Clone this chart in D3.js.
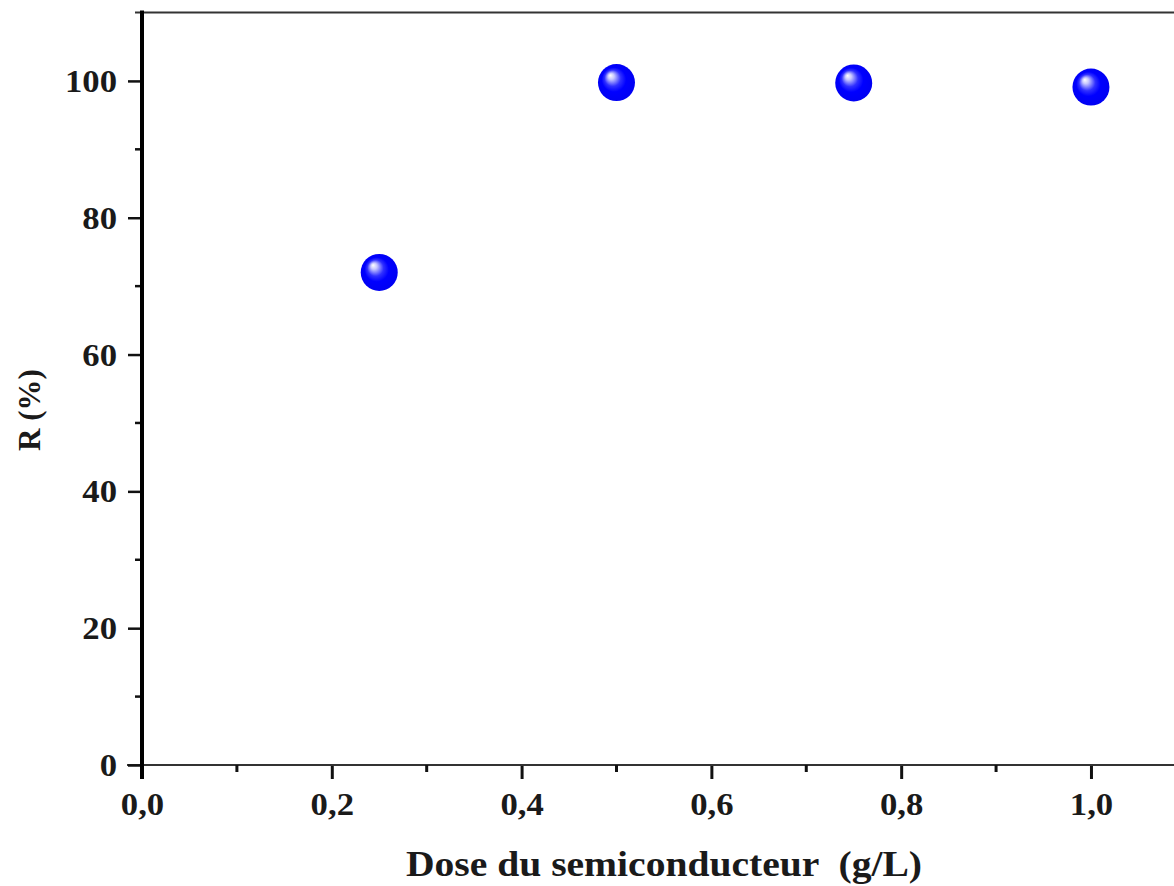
<!DOCTYPE html>
<html>
<head>
<meta charset="utf-8">
<script src="https://cdn.jsdelivr.net/npm/d3@7"></script>
<style>
  html, body { margin: 0; padding: 0; background: #fff; }
  svg { display: block; }
  text { font-family: "Liberation Serif", "Times New Roman", serif; font-weight: bold; fill: #1a1a1a; }
</style>
</head>
<body>
<svg id="chart" width="1174" height="886"></svg>
<script>
// Photocatalytic removal yield vs. semiconductor dose
const doses = [0.25, 0.5, 0.75, 1.0];
const removal = [72.0, 99.75, 99.7, 99.1];
const xTicks = [0, 0.2, 0.4, 0.6, 0.8, 1.0];
const xMinorTicks = [0.1, 0.3, 0.5, 0.7, 0.9];
const yTicks = [0, 20, 40, 60, 80, 100];
const yMinorTicks = [10, 30, 50, 70, 90];
const xTitle = "Dose du semiconducteur  (g/L)";
const yTitle = "R (%)";

const svg = d3.select("#chart");
const fmtX = d => d3.format(".1f")(d).replace(".", ",");

const x = d3.scaleLinear().domain([0, 1.0875]).range([142, 1174]);
const y = d3.scaleLinear().domain([0, 110]).range([765, 12.5]);

// glossy sphere fill
const defs = svg.append("defs");
const grad = defs.append("radialGradient")
  .attr("id", "ball").attr("cx", "0.5").attr("cy", "0.5").attr("r", "0.55")
  .attr("fx", "0.33").attr("fy", "0.3");
grad.append("stop").attr("offset", "0").attr("stop-color", "#ffffff");
grad.append("stop").attr("offset", "0.15").attr("stop-color", "#c8c8ff");
grad.append("stop").attr("offset", "0.4").attr("stop-color", "#3030ff");
grad.append("stop").attr("offset", "0.6").attr("stop-color", "#0000ff");
grad.append("stop").attr("offset", "1").attr("stop-color", "#0000f0");

// top frame line
svg.append("line")
  .attr("x1", 135).attr("x2", 1174)
  .attr("y1", y(110)).attr("y2", y(110))
  .attr("stroke", "#333").attr("stroke-width", 2);

// bottom axis
const xAxis = svg.append("g").attr("transform", `translate(0,${y(0)})`)
  .call(d3.axisBottom(x).tickValues(xTicks).tickFormat(fmtX).tickSize(14).tickSizeOuter(0));
xAxis.select(".domain").remove();
xAxis.append("line").attr("x1", 127).attr("x2", 1174).attr("y1", 0).attr("y2", 0)
  .attr("stroke", "#333").attr("stroke-width", 2.2);
xAxis.selectAll(".tick line").attr("stroke", "#111").attr("stroke-width", 3);
xAxis.selectAll(".tick text")
  .attr("x", 0).attr("y", 50).attr("dy", 0)
  .style("font-size", "31px")
  .attr("transform", "scale(1.12,1)");
xAxis.selectAll(".minor").data(xMinorTicks).enter().append("line")
  .attr("x1", d => x(d)).attr("x2", d => x(d)).attr("y1", 0).attr("y2", 7)
  .attr("stroke", "#111").attr("stroke-width", 3);

// left axis
const yAxis = svg.append("g").attr("transform", `translate(${x(0)},0)`)
  .call(d3.axisLeft(y).tickValues(yTicks).tickSize(14).tickSizeOuter(0));
yAxis.select(".domain").remove();
yAxis.selectAll(".tick line").attr("stroke", "#111").attr("stroke-width", 2.5);
yAxis.selectAll(".tick text")
  .attr("x", 0).attr("dy", "0.34em")
  .style("font-size", "31px")
  .attr("transform", "translate(-25,0) scale(1.12,1)");
yAxis.selectAll(".minor").data(yMinorTicks).enter().append("line")
  .attr("x1", -7).attr("x2", 0).attr("y1", d => y(d)).attr("y2", d => y(d))
  .attr("stroke", "#111").attr("stroke-width", 2.5);
yAxis.append("line").attr("x1", 0).attr("x2", 0).attr("y1", y(110) - 2).attr("y2", y(0) + 14)
  .attr("stroke", "#000").attr("stroke-width", 4);

// axis titles
svg.append("text")
  .attr("transform", "translate(664,876) scale(1.1,1)")
  .attr("text-anchor", "middle")
  .style("font-size", "36px")
  .style("white-space", "pre")
  .text(xTitle);
svg.append("text")
  .attr("transform", "translate(40,410) rotate(-90)")
  .attr("text-anchor", "middle")
  .style("font-size", "31px")
  .text(yTitle);

// data points
svg.append("g").selectAll("circle")
  .data(doses.map((d, i) => ({ dose: d, r: removal[i] })))
  .enter().append("circle")
  .attr("cx", d => x(d.dose))
  .attr("cy", d => y(d.r))
  .attr("r", 18.5)
  .attr("fill", "url(#ball)");
</script>
</body>
</html>
